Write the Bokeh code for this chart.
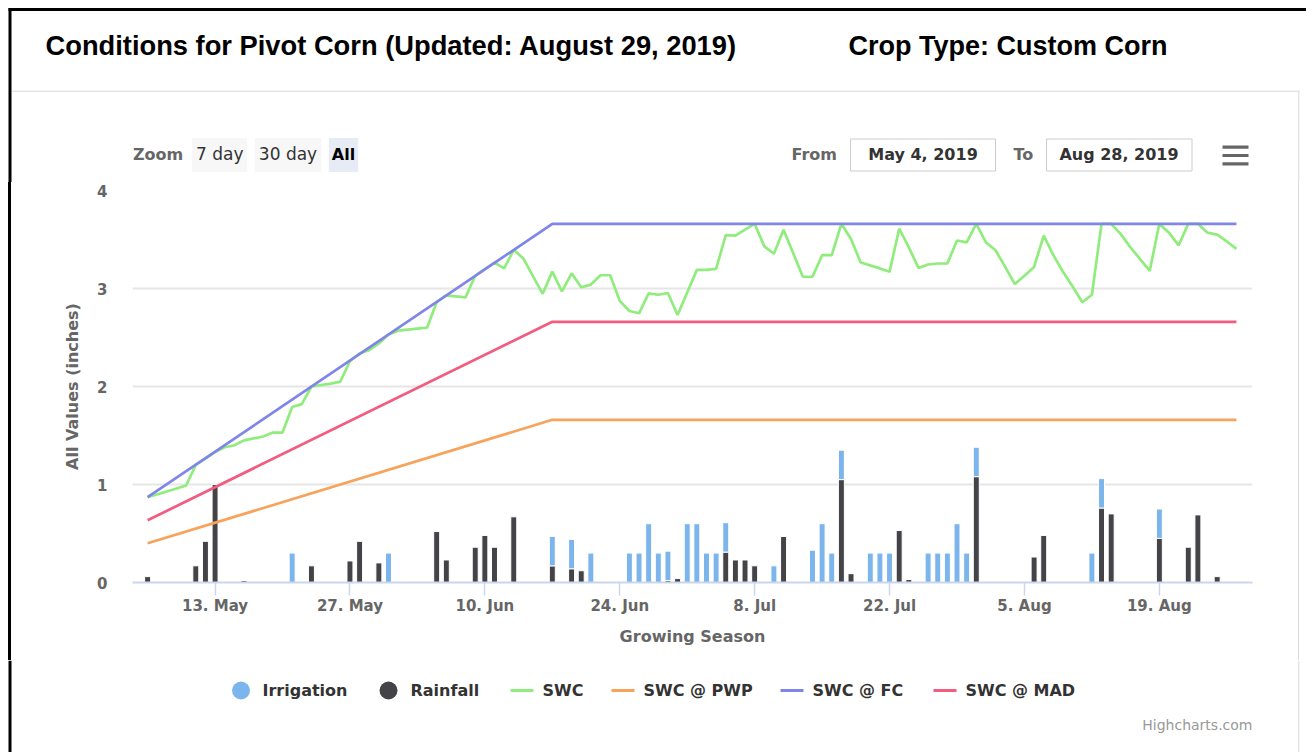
import numpy as np
from bokeh.plotting import figure
from bokeh.layouts import column, row
from bokeh.models import FixedTicker, Range1d, Div
from bokeh.core.properties import value
from bokeh.embed import file_html
from bokeh.resources import INLINE

# ---------------- data ----------------
rain_dates = ["2019-05-06", "2019-05-11", "2019-05-12", "2019-05-13", "2019-05-16", "2019-05-23",
              "2019-05-27", "2019-05-28", "2019-05-30", "2019-06-05", "2019-06-06", "2019-06-09",
              "2019-06-10", "2019-06-11", "2019-06-13", "2019-06-17", "2019-06-19", "2019-06-20",
              "2019-06-29", "2019-06-30", "2019-07-05", "2019-07-06", "2019-07-07", "2019-07-08",
              "2019-07-11", "2019-07-17", "2019-07-18", "2019-07-23", "2019-07-24", "2019-07-31",
              "2019-08-06", "2019-08-07", "2019-08-13", "2019-08-14", "2019-08-19", "2019-08-22",
              "2019-08-23", "2019-08-25"]
rainfall = [0.06, 0.17, 0.42, 1.00, 0.02, 0.17,
            0.22, 0.42, 0.20, 0.52, 0.23, 0.36,
            0.48, 0.36, 0.67, 0.17, 0.14, 0.12,
            0.02, 0.04, 0.31, 0.23, 0.23, 0.17,
            0.47, 1.05, 0.09, 0.53, 0.03, 1.08,
            0.26, 0.48, 0.76, 0.70, 0.45, 0.36,
            0.69, 0.06]

irr_dates = ["2019-05-21", "2019-05-31", "2019-06-17", "2019-06-19", "2019-06-21", "2019-06-25",
             "2019-06-26", "2019-06-27", "2019-06-28", "2019-06-29", "2019-07-01", "2019-07-02",
             "2019-07-03", "2019-07-04", "2019-07-05", "2019-07-10", "2019-07-14", "2019-07-15",
             "2019-07-16", "2019-07-17", "2019-07-20", "2019-07-21", "2019-07-22", "2019-07-26",
             "2019-07-27", "2019-07-28", "2019-07-29", "2019-07-30", "2019-07-31", "2019-08-12",
             "2019-08-13", "2019-08-19"]
irrigation = [0.30, 0.30, 0.30, 0.30, 0.30, 0.30,
              0.30, 0.60, 0.30, 0.30, 0.60, 0.60,
              0.30, 0.30, 0.30, 0.17, 0.33, 0.60,
              0.30, 0.30, 0.30, 0.30, 0.30, 0.30,
              0.30, 0.30, 0.60, 0.30, 0.30, 0.30,
              0.30, 0.30]

swc_dates = ["2019-05-06", "2019-05-09", "2019-05-10", "2019-05-11", "2019-05-12", "2019-05-13",
             "2019-05-14", "2019-05-15", "2019-05-16", "2019-05-18", "2019-05-19", "2019-05-20",
             "2019-05-21", "2019-05-22", "2019-05-23", "2019-05-25", "2019-05-26", "2019-05-27",
             "2019-05-28", "2019-05-29", "2019-05-30", "2019-05-31", "2019-06-01", "2019-06-03",
             "2019-06-04", "2019-06-05", "2019-06-06", "2019-06-08", "2019-06-09", "2019-06-10",
             "2019-06-11", "2019-06-12", "2019-06-13", "2019-06-14", "2019-06-16", "2019-06-17",
             "2019-06-18", "2019-06-19", "2019-06-20", "2019-06-21", "2019-06-22", "2019-06-23",
             "2019-06-24", "2019-06-25", "2019-06-26", "2019-06-27", "2019-06-28", "2019-06-29",
             "2019-06-30", "2019-07-02", "2019-07-03", "2019-07-04", "2019-07-05", "2019-07-06",
             "2019-07-07", "2019-07-08", "2019-07-09", "2019-07-10", "2019-07-11", "2019-07-13",
             "2019-07-14", "2019-07-15", "2019-07-16", "2019-07-17", "2019-07-18", "2019-07-19",
             "2019-07-21", "2019-07-22", "2019-07-23", "2019-07-24", "2019-07-25", "2019-07-26",
             "2019-07-27", "2019-07-28", "2019-07-29", "2019-07-30", "2019-07-31", "2019-08-01",
             "2019-08-02", "2019-08-03", "2019-08-04", "2019-08-05", "2019-08-06", "2019-08-07",
             "2019-08-08", "2019-08-09", "2019-08-10", "2019-08-11", "2019-08-12", "2019-08-13",
             "2019-08-14", "2019-08-15", "2019-08-16", "2019-08-17", "2019-08-18", "2019-08-19",
             "2019-08-20", "2019-08-21", "2019-08-22", "2019-08-23", "2019-08-24", "2019-08-25",
             "2019-08-26", "2019-08-27"]
swc = [0.87, 0.96, 0.99, 1.20, 1.265, 1.33,
       1.38, 1.40, 1.45, 1.49, 1.53, 1.53,
       1.79, 1.82, 2.00, 2.03, 2.05, 2.26,
       2.34, 2.37, 2.44, 2.53, 2.57, 2.59,
       2.60, 2.86, 2.93, 2.91, 3.13, 3.20,
       3.265, 3.205, 3.395, 3.305, 2.946, 3.172,
       2.97, 3.155, 3.012, 3.04, 3.135, 3.135,
       2.874, 2.77, 2.747, 2.95, 2.936, 2.954,
       2.73, 3.19, 3.19, 3.20, 3.545, 3.54,
       3.60, 3.66, 3.43, 3.355, 3.60, 3.12,
       3.12, 3.34, 3.34, 3.66, 3.505, 3.265,
       3.205, 3.17, 3.61, 3.42, 3.21, 3.245,
       3.255, 3.255, 3.49, 3.47, 3.66, 3.47,
       3.39, 3.22, 3.045, 3.13, 3.22, 3.54,
       3.34, 3.17, 3.02, 2.86, 2.936, 3.66,
       3.66, 3.555, 3.42, 3.30, 3.18, 3.66,
       3.57, 3.44, 3.66, 3.66, 3.57, 3.55,
       3.48, 3.405]

limit_dates = ["2019-05-06", "2019-06-17", "2019-08-27"]
swc_pwp = [0.40, 1.66, 1.66]
swc_fc = [0.87, 3.66, 3.66]
swc_mad = [0.635, 2.66, 2.66]

tick_dates = ["2019-05-13", "2019-05-27", "2019-06-10", "2019-06-24",
              "2019-07-08", "2019-07-22", "2019-08-05", "2019-08-19"]
tick_labels = ["13. May", "27. May", "10. Jun", "24. Jun", "8. Jul", "22. Jul", "5. Aug", "19. Aug"]
y_ticks = [0, 1, 2, 3, 4]

series_names = ["Irrigation", "Rainfall", "SWC", "SWC @ PWP", "SWC @ FC", "SWC @ MAD"]
series_colors = ["#7cb5ec", "#434348", "#90ed7d", "#f7a35c", "#8085e9", "#f15c80"]

# ---------------- helpers ----------------
def dt(lst):
    return np.array(lst, dtype="datetime64[ms]")

def ms(lst):
    return dt(lst).astype("int64").astype(float)

DAY = 86400000.0
FONT = "DejaVu Sans"
W = 1306
H_TOP, H_CHART, H_BOT = 182, 478, 92
STRIP_L, STRIP_R = 12, 12
PANEL_GRAY = "#d9d9d9"
LW = 2.7


def deco(w, h, x0, y0):
    """Decoration canvas whose data coordinates are page pixels (y downwards)."""
    f = figure(width=w, height=h, x_range=Range1d(x0, x0 + w), y_range=Range1d(y0 + h, y0),
               min_border=0, toolbar_location=None, output_backend="svg",
               x_axis_location=None, y_axis_location=None)
    f.outline_line_color = None
    f.xgrid.visible = False
    f.ygrid.visible = False
    f.background_fill_color = "white"
    f.border_fill_color = "white"
    return f


def rect(f, x0, y0, x1, y1, fill, line=None, lw=1):
    f.quad(left=[x0], right=[x1], top=[y0], bottom=[y1], fill_color=fill,
           line_color=line, line_width=lw)


def txt(f, s, x, y, size, bold=False, color="#333333", align="left", font=FONT,
        baseline="middle"):
    f.text(x=[x], y=[y], text=[s], text_font=value(font), text_font_size=value(f"{size}px"),
           text_font_style="bold" if bold else "normal", text_color=color,
           text_align=align, text_baseline=baseline)


# ---------------- top decoration (header + range selector) ----------------
top = deco(W, H_TOP, 0, 0)
rect(top, 8, 7.5, W, 10.5, "#000000")                # outer dark frame (top)
rect(top, 8, 7.5, 11, H_TOP, "#000000")              # outer dark frame (left)
rect(top, 12, 90.2, 1298.8, 91.2, PANEL_GRAY)        # chart panel top edge
rect(top, 1297.8, 90.2, 1298.8, H_TOP, PANEL_GRAY)   # chart panel right edge

txt(top, "Conditions for Pivot Corn (Updated: August 29, 2019)", 45, 45, 27.3, bold=True,
    color="#000000", font="Liberation Sans")
txt(top, "Crop Type: Custom Corn", 848, 45, 27, bold=True, color="#000000",
    font="Liberation Sans")

rect(top, 191.7, 137.5, 246.7, 171.5, "#f7f7f7")
rect(top, 254.3, 137.5, 320.7, 171.5, "#f7f7f7")
rect(top, 328.3, 137.5, 357.7, 171.5, "#e6ebf5")
txt(top, "Zoom", 132.5, 154, 16, bold=True, color="#666666")
txt(top, "7 day", 219.2, 153.5, 17, color="#333333", align="center")
txt(top, "30 day", 287.5, 153.5, 17, color="#333333", align="center")
txt(top, "All", 343, 154, 16, bold=True, color="#000000", align="center")

txt(top, "From", 791, 153.5, 16, bold=True, color="#666666")
rect(top, 850, 138.5, 995, 170.5, "#ffffff", line="#cccccc")
txt(top, "May 4, 2019", 922.5, 154, 16, bold=True, color="#333333", align="center")
txt(top, "To", 1013, 153.5, 16, bold=True, color="#666666")
rect(top, 1046, 138.5, 1191.5, 170.5, "#ffffff", line="#cccccc")
txt(top, "Aug 28, 2019", 1118.5, 154, 16, bold=True, color="#333333", align="center")
for yy in (146.7, 155.0, 163.3):
    rect(top, 1222, yy - 1.6, 1248, yy + 1.6, "#666666")

# ---------------- side strips beside the chart (plain HTML blocks) ----------------
left_strip = Div(text="", width=STRIP_L, height=H_CHART, margin=0,
                 styles={"background": "linear-gradient(to right, #ffffff 0px, #ffffff 8px, "
                                       "#000000 8px, #000000 11px, #ffffff 11px, #ffffff 12px)"})
right_strip = Div(text="", width=STRIP_R, height=H_CHART, margin=0,
                  styles={"background": "linear-gradient(to right, #ffffff 0px, #ffffff 4px, "
                                        f"{PANEL_GRAY} 4px, {PANEL_GRAY} 5px, #ffffff 5px, #ffffff 12px)"})

# ---------------- the chart ----------------
x_start = ms(["2019-05-04T10:20"])[0]
x_end = ms(["2019-08-28T16:00"])[0]

p = figure(x_axis_type="datetime", output_backend="svg", toolbar_location=None,
           frame_width=1120, frame_height=392,
           min_border_left=120, min_border_right=W - STRIP_L - STRIP_R - 120 - 1120,
           min_border_top=8, min_border_bottom=H_CHART - 8 - 392,
           x_range=Range1d(x_start, x_end), y_range=Range1d(0, 4))
p.background_fill_color = "white"
p.border_fill_color = "white"
p.outline_line_color = None

p.xgrid.visible = False
p.ygrid.grid_line_color = "#e6e6e6"
p.ygrid.grid_line_width = 2
p.ygrid.ticker = FixedTicker(ticks=y_ticks)

p.yaxis.ticker = FixedTicker(ticks=y_ticks)
p.yaxis.axis_line_color = None
p.yaxis.major_tick_line_color = None
p.yaxis.minor_tick_line_color = None
p.yaxis.major_label_standoff = 19
p.yaxis.major_label_text_font = FONT
p.yaxis.major_label_text_font_style = "bold"
p.yaxis.major_label_text_font_size = "15px"
p.yaxis.major_label_text_color = "#666666"
p.yaxis.axis_label = "All Values (inches)"
p.yaxis.axis_label_text_font = FONT
p.yaxis.axis_label_text_font_style = "bold"
p.yaxis.axis_label_text_font_size = "16px"
p.yaxis.axis_label_text_color = "#666666"
p.yaxis.axis_label_standoff = 12

tick_ms = ms(tick_dates)
p.xaxis.ticker = FixedTicker(ticks=list(tick_ms))
p.xaxis.major_label_overrides = {float(t): l for t, l in zip(tick_ms, tick_labels)}
p.xaxis.axis_line_color = "#ccd6eb"
p.xaxis.axis_line_width = 2
p.xaxis.major_tick_line_color = "#ccd6eb"
p.xaxis.major_tick_line_width = 1.5
p.xaxis.major_tick_in = 0
p.xaxis.major_tick_out = 13
p.xaxis.minor_tick_line_color = None
p.xaxis.major_label_standoff = 1
p.xaxis.major_label_text_font = FONT
p.xaxis.major_label_text_font_style = "bold"
p.xaxis.major_label_text_font_size = "15px"
p.xaxis.major_label_text_color = "#666666"
p.xaxis.axis_label = "Growing Season"
p.xaxis.axis_label_text_font = FONT
p.xaxis.axis_label_text_font_style = "bold"
p.xaxis.axis_label_text_font_size = "16px"
p.xaxis.axis_label_text_color = "#666666"
p.xaxis.axis_label_standoff = 9

# stacked columns: rainfall below, irrigation on top
rain_by_day = dict(zip(rain_dates, rainfall))
irr_bottom = [rain_by_day.get(d, 0.0) for d in irr_dates]
irr_top = [b + v for b, v in zip(irr_bottom, irrigation)]
BW = 0.62 * DAY
p.vbar(x=dt(rain_dates), top=rainfall, bottom=0, width=BW,
       fill_color=series_colors[1], line_color="white", line_width=1)
p.vbar(x=dt(irr_dates), top=irr_top, bottom=irr_bottom, width=BW,
       fill_color=series_colors[0], line_color="white", line_width=1)

p.line(dt(swc_dates), swc, line_color=series_colors[2], line_width=LW)
p.line(dt(limit_dates), swc_pwp, line_color=series_colors[3], line_width=LW)
p.line(dt(limit_dates), swc_fc, line_color=series_colors[4], line_width=LW)
p.line(dt(limit_dates), swc_mad, line_color=series_colors[5], line_width=LW)

# ---------------- bottom decoration (legend + credits) ----------------
y0b = H_TOP + H_CHART
bot = deco(W, H_BOT, 0, y0b)
rect(bot, 8, y0b, 11, y0b + H_BOT, "#000000")
rect(bot, 1297.8, y0b, 1298.8, y0b + H_BOT, PANEL_GRAY)

LEG_Y = 690
sym_x = [240.5, 388, 510, 611, 780, 933]      # symbol centre (circles) / left end (lines)
lab_x = [262, 410, 542, 643, 812, 965]
for i, name in enumerate(series_names):
    if i < 2:
        bot.scatter(x=[sym_x[i]], y=[LEG_Y], marker="circle", size=18,
                    fill_color=series_colors[i], line_color=None)
    else:
        bot.segment(x0=[sym_x[i]], y0=[LEG_Y], x1=[sym_x[i] + 23], y1=[LEG_Y],
                    line_color=series_colors[i], line_width=3)
    txt(bot, name, lab_x[i], LEG_Y, 16, bold=True, color="#333333")

txt(bot, "Highcharts.com", 1252, 724.5, 14, color="#999999", align="right")

layout = column(top, row(left_strip, p, right_strip), bot)
open("out.html", "w").write(file_html(layout, INLINE))
